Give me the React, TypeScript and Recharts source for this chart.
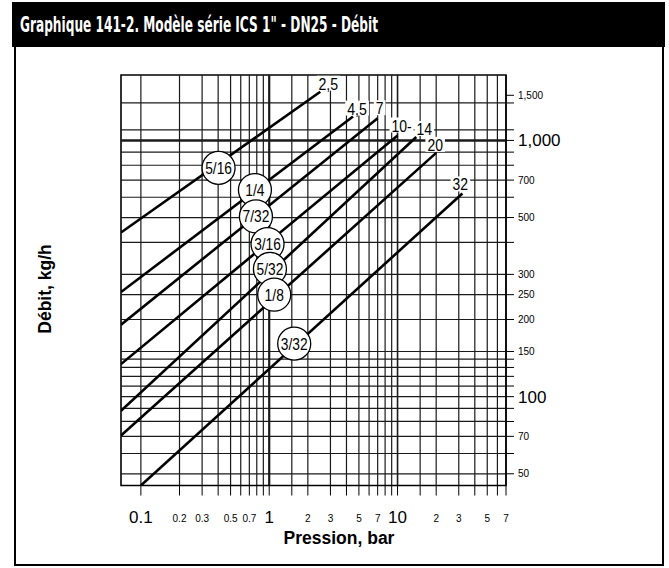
import React from 'react';
import { LineChart, Line, XAxis, YAxis, ReferenceLine, ReferenceArea, ReferenceDot } from 'recharts';

// Orifice sizes (badge labels) and their maximum-pressure end labels
const orifices = ['5/16', '1/4', '7/32', '3/16', '5/32', '1/8', '3/32'];
const endLabels = ['2,5', '4,5', '7', '10-', '14', '20', '32'];
// Line endpoints (pressure bar, flow kg/h)
const startPressure = [0.07, 0.07, 0.07, 0.07, 0.07, 0.07, 0.1];
const startFlow = [437, 256, 191, 134, 88, 70.5, 45];
const endPressure = [2.5, 4.5, 7, 10, 14, 20, 32];
const endFlow = [1549, 1239, 1221, 1045, 1031, 894, 621];
// Badge (circle) positions in data space
const badgePressure = [0.403, 0.774, 0.788, 0.97, 1.013, 1.094, 1.566];
const badgeFlow = [781, 640, 505, 394, 315, 250, 161];

// Axes
const xDomain = [0.07, 70];
const yDomain = [45, 1800];
const xGrid = [0.1, 0.2, 0.3, 0.4, 0.5, 0.6, 0.7, 0.8, 0.9, 1, 1.5, 2, 3, 4, 5, 6, 7, 8, 9, 10, 15, 20, 30, 40, 50, 60, 70];
const xTickValues = [0.1, 0.2, 0.3, 0.5, 0.7, 1, 2, 3, 5, 7, 10, 20, 30, 50, 70];
const xTickTexts = ['0.1', '0.2', '0.3', '0.5', '0.7', '1', '2', '3', '5', '7', '10', '2', '3', '5', '7'];
const xBig = [0.1, 1, 10];
const yGrid = [50, 60, 70, 80, 90, 100, 110, 120, 130, 140, 150, 200, 250, 300, 400, 500, 600, 700, 800, 900, 1000, 1100, 1400];
const yTickAll = [50, 60, 70, 80, 90, 100, 110, 120, 130, 140, 150, 200, 250, 300, 400, 500, 600, 700, 800, 900, 1000, 1100, 1400, 1500];
const yTickValues = [50, 70, 100, 150, 200, 250, 300, 500, 700, 1000, 1500];
const yTickTexts = ['50', '70', '100', '150', '200', '250', '300', '500', '700', '1,000', '1,500'];
const yBig = [100, 1000];

// Styling (not data)
const endLabelOffsets = [[8, -8], [4, -8], [2, -10], [4, -10], [8, -8], [-1, -8], [-2, -9]];
const NARROW = "'Liberation Sans Narrow', 'DejaVu Sans Condensed', 'Liberation Sans', sans-serif";
const SANS = "'Liberation Sans', Arial, sans-serif";

// approximate condensed-Helvetica width of a short label (for textLength)
const narrowWidth = (s: string, size: number, factor: number) => {
  let em = 0;
  for (const c of s) em += c === '/' || c === ',' ? 0.3 : c === '-' ? 0.333 : 0.556;
  return em * size * factor;
};

const XTick = (props: any) => {
  const { x, y, payload } = props;
  const i = xTickValues.indexOf(payload.value);
  if (i < 0) return null;
  const big = xBig.includes(payload.value);
  return (
    <text x={x} y={y + (big ? 25.5 : 24)} textAnchor="middle" fontFamily={SANS} fontSize={big ? 17 : 10} fill="#000">
      {xTickTexts[i]}
    </text>
  );
};

const YTick = (props: any) => {
  const { x, y, payload } = props;
  const i = yTickValues.indexOf(payload.value);
  if (i < 0) return null;
  const big = yBig.includes(payload.value);
  return (
    <text x={x} y={y} dy={big ? 6 : 3.5} textAnchor="start" fontFamily={SANS} fontSize={big ? 17 : 10} fill="#000">
      {yTickTexts[i]}
    </text>
  );
};

export default function App() {
  const series = orifices.map((o, i) => ({
    name: o,
    data: [
      { p: startPressure[i], q: startFlow[i] },
      { p: endPressure[i], q: endFlow[i] },
    ],
  }));
  return (
    <div style={{ position: 'absolute', left: 0, top: 0, width: 669, height: 568, background: '#fff' }}>
      <div style={{ position: 'absolute', left: 14, top: 2, width: 650, height: 564, border: '2px solid #000', boxSizing: 'border-box' }} />
      <svg width={669} height={50} style={{ position: 'absolute', left: 0, top: 0 }}>
        <rect x={12} y={2} width={653} height={45} fill="#000" />
        <text x={20} y={32} fill="#fff" fontFamily={NARROW} fontWeight="bold" fontSize={20.5} textLength={358} lengthAdjust="spacingAndGlyphs">
          Graphique 141-2. Modèle série ICS 1" - DN25 - Débit
        </text>
      </svg>
      <div style={{ position: 'absolute', left: 0, top: 0 }}>
        <LineChart width={669} height={568} margin={{ top: 75, right: 103, bottom: 52.5, left: 121 }}>
          <XAxis
            dataKey="p"
            type="number"
            scale="log"
            domain={xDomain}
            allowDataOverflow
            ticks={xGrid}
            interval={0}
            tickSize={10}
            tickMargin={2}
            height={30}
            stroke="#000"
            tick={<XTick />}
          />
          <YAxis
            orientation="right"
            type="number"
            scale="log"
            domain={yDomain}
            allowDataOverflow
            ticks={yTickAll}
            interval={0}
            tickSize={8}
            tickMargin={4}
            width={60}
            stroke="#000"
            tick={<YTick />}
          />
          {xGrid.map((v) => (
            <ReferenceLine key={'x' + v} x={v} stroke="#1a1a1a" strokeWidth={v === 1 ? 2.2 : v === 10 ? 1.6 : 1.2} />
          ))}
          {yGrid.map((v) => (
            <ReferenceLine key={'y' + v} y={v} stroke="#1a1a1a" strokeWidth={v === 1000 ? 2.5 : 1.2} />
          ))}
          <ReferenceArea x1={xDomain[0]} x2={xDomain[1]} y1={yDomain[0]} y2={yDomain[1]} fill="none" stroke="#000" strokeWidth={1.6} />
          {series.map((s) => (
            <Line
              key={s.name}
              data={s.data}
              dataKey="q"
              name={s.name}
              stroke="#000"
              strokeWidth={2.6}
              dot={false}
              activeDot={false}
              isAnimationActive={false}
            />
          ))}
          {orifices.map((o, i) => (
            <ReferenceDot
              key={'b' + o}
              x={badgePressure[i]}
              y={badgeFlow[i]}
              r={16}
              shape={(p: any) => {
                const w = narrowWidth(o, 17, 0.8);
                return (
                  <g>
                    <circle cx={p.cx} cy={p.cy} r={16.5} fill="#fff" stroke="#000" strokeWidth={1.3} />
                    <text
                      x={p.cx - w / 2}
                      y={p.cy}
                      dy={6}
                      fontFamily={SANS}
                      fontSize={17}
                      fill="#000"
                      textLength={w}
                      lengthAdjust="spacingAndGlyphs"
                    >
                      {o}
                    </text>
                  </g>
                );
              }}
            />
          ))}
          {endLabels.map((l, i) => (
            <ReferenceDot
              key={'e' + l}
              x={endPressure[i]}
              y={endFlow[i]}
              r={1}
              shape={(p: any) => {
                const cx = p.cx + endLabelOffsets[i][0];
                const cy = p.cy + endLabelOffsets[i][1];
                const w = narrowWidth(l, 17, 0.82);
                return (
                  <g>
                    <rect x={cx - w / 2 - 2} y={cy - 8} width={w + 4} height={15} fill="#fff" />
                    <text
                      x={cx - w / 2}
                      y={cy}
                      dy={6}
                      fontFamily={SANS}
                      fontSize={17}
                      fill="#000"
                      textLength={w}
                      lengthAdjust="spacingAndGlyphs"
                    >
                      {l}
                    </text>
                  </g>
                );
              }}
            />
          ))}
        </LineChart>
      </div>
      <div style={{ position: 'absolute', left: 339, top: 544, transform: 'translate(-50%, -82%)', fontFamily: SANS, fontWeight: 'bold', fontSize: 17.5, whiteSpace: 'nowrap', lineHeight: 1 }}>
        Pression, bar
      </div>
      <div style={{ position: 'absolute', left: 46, top: 289, transform: 'translate(-50%, -50%) rotate(-90deg)', fontFamily: SANS, fontWeight: 'bold', fontSize: 17.5, whiteSpace: 'nowrap', lineHeight: 1 }}>
        Débit, kg/h
      </div>
    </div>
  );
}
